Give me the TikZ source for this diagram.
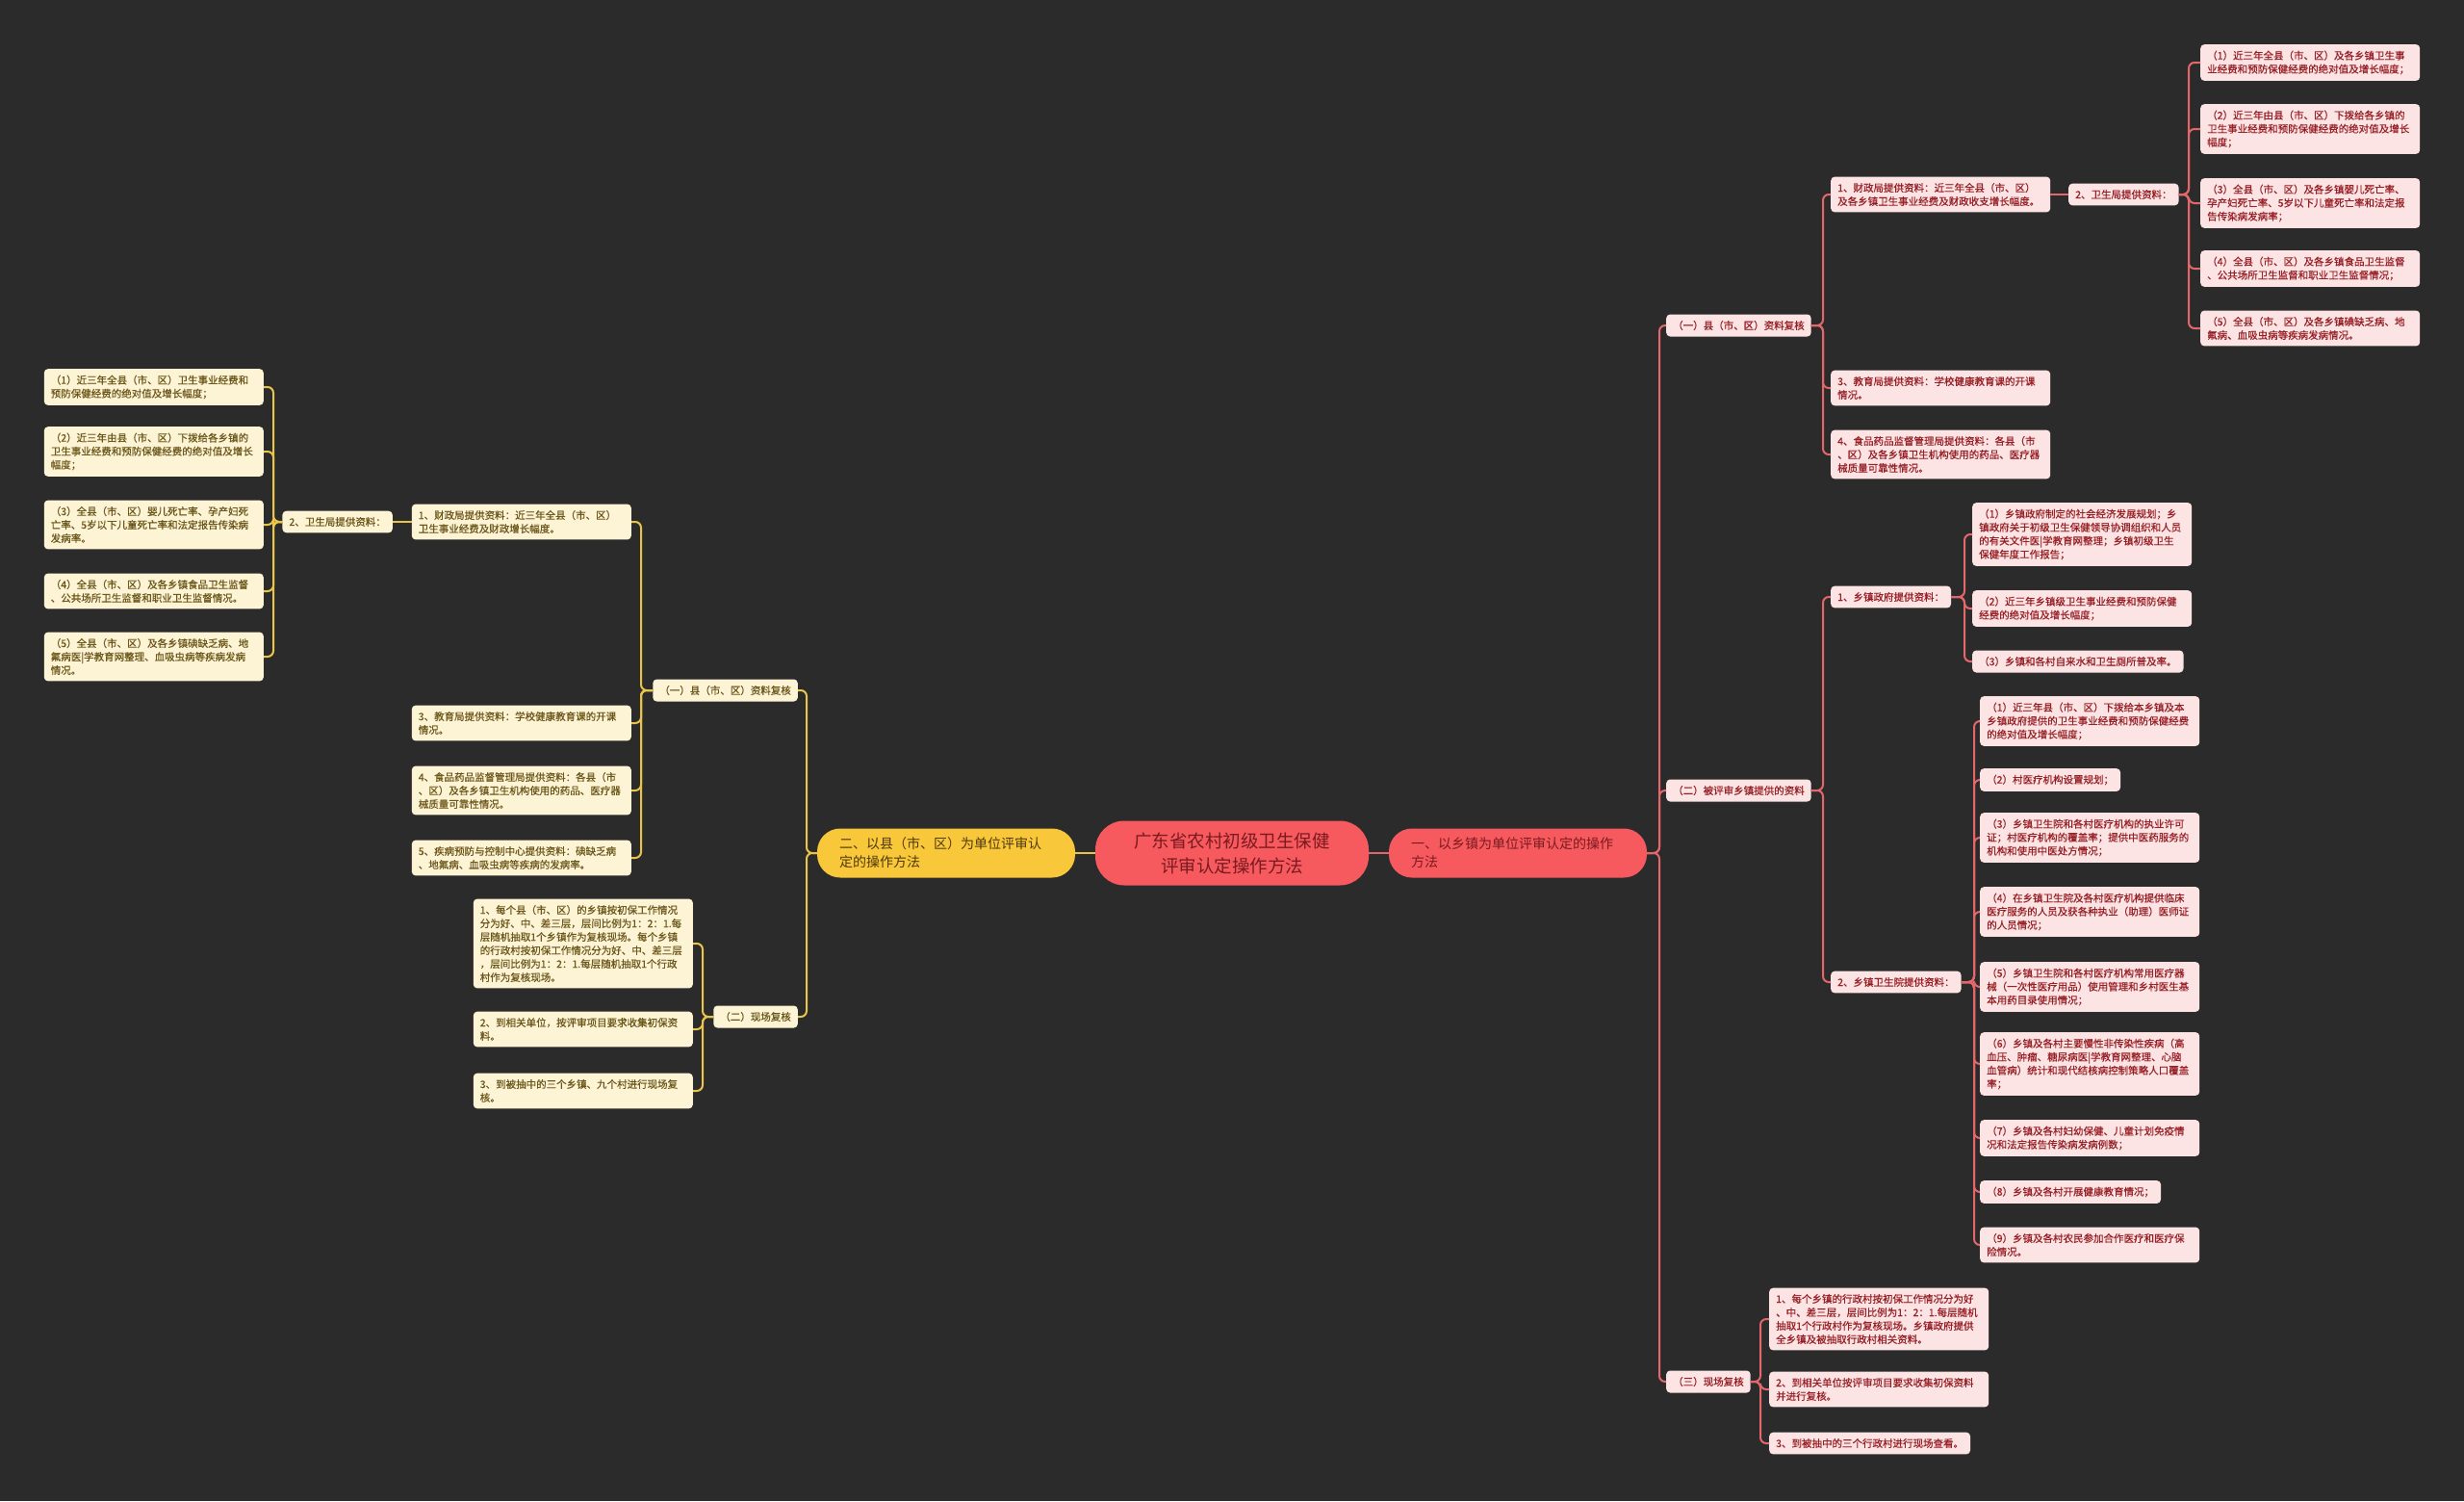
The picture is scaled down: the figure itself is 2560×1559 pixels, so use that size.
\documentclass[tikz,border=0pt]{standalone}
\usepackage{fontspec}
\setmainfont{Noto Sans CJK SC}[BoldFont={Noto Sans CJK SC}, BoldFeatures={FakeBold=0.4}]
\definecolor{bg}{HTML}{2B2B2B}
\definecolor{rootred}{HTML}{F65A5F}
\definecolor{roottext}{HTML}{7A1A1E}
\definecolor{pinkfill}{HTML}{FDE4E4}
\definecolor{pinktext}{HTML}{951C22}
\definecolor{redline}{HTML}{E4676B}
\definecolor{yellowmain}{HTML}{F9C83A}
\definecolor{yellowtext}{HTML}{4E390A}
\definecolor{creamfill}{HTML}{FDF3D5}
\definecolor{creamtext}{HTML}{6A5518}
\definecolor{yellowline}{HTML}{E9C54A}
\newcommand\cnsmall{\fontsize{10.5}{14}\selectfont\bfseries}
\tikzset{
  basebox/.style={rounded corners=4, inner xsep=7, inner ysep=6.5, font=\cnsmall, align=left},
  rbox/.style={basebox, fill=pinkfill, text=pinktext, anchor=west},
  rboxw/.style={rbox, text width=214},
  ybox/.style={basebox, fill=creamfill, text=creamtext, anchor=east},
  yboxw/.style={ybox, text width=214},
  rl/.style={draw=redline, line width=2, rounded corners=6},
  yl/.style={draw=yellowline, line width=2, rounded corners=6},
  rootbox/.style={fill=rootred, text=roottext, rounded corners=30, minimum width=284, minimum height=67, align=center, inner sep=0, font=\fontsize{18.5}{26}\selectfont},
  lonebox/.style={rounded corners=24, minimum width=268, minimum height=51, text width=222, inner xsep=23, inner ysep=0, align=left, font=\fontsize{14}{19}\selectfont}
}
\begin{document}
\begin{tikzpicture}[x=1pt,y=-1pt]
\fill[bg] (0,0) rectangle (2560,1559);
\useasboundingbox (0,0) rectangle (2560,1559);

% root and level 1
\node[rootbox] (root) at (1280,886) {广东省农村初级卫生保健\\评审认定操作方法};
\node[lonebox, fill=rootred, text=roottext] (L1R) at (1577,886) {一、以乡镇为单位评审认定的操作\\方法};
\node[lonebox, fill=yellowmain, text=yellowtext] (L1L) at (983,886) {二、以县（市、区）为单位评审认\\定的操作方法};
\draw[rl] (root.east) -- (L1R.west);
\draw[yl] (root.west) -- (L1L.east);

% trunk coordinates
\coordinate (tA) at (1724,0);
\coordinate (tB) at (1894,0);
\coordinate (tD) at (2274,0);
\coordinate (tE) at (2041,0);
\coordinate (tF) at (2051,0);
\coordinate (tG) at (1829,0);
\coordinate (tH) at (838,0);
\coordinate (tI) at (666,0);
\coordinate (tK) at (284,0);
\coordinate (tM) at (730,0);

% ---------------- right side ----------------
\node[rbox] (A1) at (1731,338) {（一）县（市、区）资料复核};
\node[rbox] (A2) at (1731,821) {（二）被评审乡镇提供的资料};
\node[rbox] (A3) at (1731,1435) {（三）现场复核};
\foreach \c in {A1,A2,A3} \draw[rl] (L1R.east) -- (L1R.east -| tA) |- (\c.west);

\node[rboxw] (B1) at (1902,202) {1、财政局提供资料：近三年全县（市、区）\\及各乡镇卫生事业经费及财政收支增长幅度。};
\node[rboxw] (B2) at (1902,403) {3、教育局提供资料：学校健康教育课的开课\\情况。};
\node[rboxw] (B3) at (1902,472) {4、食品药品监督管理局提供资料：各县（市\\、区）及各乡镇卫生机构使用的药品、医疗器\\械质量可靠性情况。};
\foreach \c in {B1,B2,B3} \draw[rl] (A1.east) -- (A1.east -| tB) |- (\c.west);

\node[rbox] (C1) at (2149,202) {2、卫生局提供资料：};
\draw[rl] (B1.east) -- (C1.west);

\node[rboxw] (D1) at (2286,65) {（1）近三年全县（市、区）及各乡镇卫生事\\业经费和预防保健经费的绝对值及增长幅度；};
\node[rboxw] (D2) at (2286,134) {（2）近三年由县（市、区）下拨给各乡镇的\\卫生事业经费和预防保健经费的绝对值及增长\\幅度；};
\node[rboxw] (D3) at (2286,211) {（3）全县（市、区）及各乡镇婴儿死亡率、\\孕产妇死亡率、5岁以下儿童死亡率和法定报\\告传染病发病率；};
\node[rboxw] (D4) at (2286,279) {（4）全县（市、区）及各乡镇食品卫生监督\\、公共场所卫生监督和职业卫生监督情况；};
\node[rboxw] (D5) at (2286,341) {（5）全县（市、区）及各乡镇碘缺乏病、地\\氟病、血吸虫病等疾病发病情况。};
\foreach \c in {D1,D2,D3,D4,D5} \draw[rl] (C1.east) -- (C1.east -| tD) |- (\c.west);

\node[rbox] (B4) at (1902,620) {1、乡镇政府提供资料：};
\node[rbox] (B5) at (1902,1020) {2、乡镇卫生院提供资料：};
\foreach \c in {B4,B5} \draw[rl] (A2.east) -- (A2.east -| tB) |- (\c.west);

\node[rboxw] (E1) at (2049,555) {（1）乡镇政府制定的社会经济发展规划；乡\\镇政府关于初级卫生保健领导协调组织和人员\\的有关文件医|学教育网整理；乡镇初级卫生\\保健年度工作报告；};
\node[rboxw] (E2) at (2049,632) {（2）近三年乡镇级卫生事业经费和预防保健\\经费的绝对值及增长幅度；};
\node[rbox] (E3) at (2049,687) {（3）乡镇和各村自来水和卫生厕所普及率。};
\foreach \c in {E1,E2,E3} \draw[rl] (B4.east) -- (B4.east -| tE) |- (\c.west);

\node[rboxw] (F1) at (2057,749) {（1）近三年县（市、区）下拨给本乡镇及本\\乡镇政府提供的卫生事业经费和预防保健经费\\的绝对值及增长幅度；};
\node[rbox] (F2) at (2057,810) {（2）村医疗机构设置规划；};
\node[rboxw] (F3) at (2057,870) {（3）乡镇卫生院和各村医疗机构的执业许可\\证；村医疗机构的覆盖率；提供中医药服务的\\机构和使用中医处方情况；};
\node[rboxw] (F4) at (2057,947) {（4）在乡镇卫生院及各村医疗机构提供临床\\医疗服务的人员及获各种执业（助理）医师证\\的人员情况；};
\node[rboxw] (F5) at (2057,1025) {（5）乡镇卫生院和各村医疗机构常用医疗器\\械（一次性医疗用品）使用管理和乡村医生基\\本用药目录使用情况；};
\node[rboxw] (F6) at (2057,1105) {（6）乡镇及各村主要慢性非传染性疾病（高\\血压、肿瘤、糖尿病医|学教育网整理、心脑\\血管病）统计和现代结核病控制策略人口覆盖\\率；};
\node[rboxw] (F7) at (2057,1182) {（7）乡镇及各村妇幼保健、儿童计划免疫情\\况和法定报告传染病发病例数；};
\node[rbox] (F8) at (2057,1238) {（8）乡镇及各村开展健康教育情况；};
\node[rboxw] (F9) at (2057,1293) {（9）乡镇及各村农民参加合作医疗和医疗保\\险情况。};
\foreach \c in {F1,F2,F3,F4,F5,F6,F7,F8,F9} \draw[rl] (B5.east) -- (B5.east -| tF) |- (\c.west);

\node[rboxw] (G1) at (1838,1370) {1、每个乡镇的行政村按初保工作情况分为好\\、中、差三层，层间比例为1：2：1.每层随机\\抽取1个行政村作为复核现场。乡镇政府提供\\全乡镇及被抽取行政村相关资料。};
\node[rboxw] (G2) at (1838,1443) {2、到相关单位按评审项目要求收集初保资料\\并进行复核。};
\node[rbox] (G3) at (1838,1499) {3、到被抽中的三个行政村进行现场查看。};
\foreach \c in {G1,G2,G3} \draw[rl] (A3.east) -- (A3.east -| tG) |- (\c.west);

% ---------------- left side ----------------
\node[ybox] (H1) at (829,717) {（一）县（市、区）资料复核};
\node[ybox] (H2) at (829,1056) {（二）现场复核};
\foreach \c in {H1,H2} \draw[yl] (L1L.west) -- (L1L.west -| tH) |- (\c.east);

\node[yboxw] (I1) at (656,542) {1、财政局提供资料：近三年全县（市、区）\\卫生事业经费及财政增长幅度。};
\node[yboxw] (I2) at (656,751) {3、教育局提供资料：学校健康教育课的开课\\情况。};
\node[yboxw] (I3) at (656,821) {4、食品药品监督管理局提供资料：各县（市\\、区）及各乡镇卫生机构使用的药品、医疗器\\械质量可靠性情况。};
\node[yboxw] (I4) at (656,891) {5、疾病预防与控制中心提供资料：碘缺乏病\\、地氟病、血吸虫病等疾病的发病率。};
\foreach \c in {I1,I2,I3,I4} \draw[yl] (H1.west) -- (H1.west -| tI) |- (\c.east);

\node[ybox] (J) at (408,542) {2、卫生局提供资料：};
\draw[yl] (I1.west) -- (J.east);

\node[yboxw] (K1) at (274,402) {（1）近三年全县（市、区）卫生事业经费和\\预防保健经费的绝对值及增长幅度；};
\node[yboxw] (K2) at (274,469) {（2）近三年由县（市、区）下拨给各乡镇的\\卫生事业经费和预防保健经费的绝对值及增长\\幅度；};
\node[yboxw] (K3) at (274,545) {（3）全县（市、区）婴儿死亡率、孕产妇死\\亡率、5岁以下儿童死亡率和法定报告传染病\\发病率。};
\node[yboxw] (K4) at (274,614) {（4）全县（市、区）及各乡镇食品卫生监督\\、公共场所卫生监督和职业卫生监督情况。};
\node[yboxw] (K5) at (274,682) {（5）全县（市、区）及各乡镇碘缺乏病、地\\氟病医|学教育网整理、血吸虫病等疾病发病\\情况。};
\foreach \c in {K1,K2,K3,K4,K5} \draw[yl] (J.west) -- (J.west -| tK) |- (\c.east);

\node[yboxw] (M1) at (720,980) {1、每个县（市、区）的乡镇按初保工作情况\\分为好、中、差三层，层间比例为1：2：1.每\\层随机抽取1个乡镇作为复核现场。每个乡镇\\的行政村按初保工作情况分为好、中、差三层\\，层间比例为1：2：1.每层随机抽取1个行政\\村作为复核现场。};
\node[yboxw] (M2) at (720,1069) {2、到相关单位，按评审项目要求收集初保资\\料。};
\node[yboxw] (M3) at (720,1133) {3、到被抽中的三个乡镇、九个村进行现场复\\核。};
\foreach \c in {M1,M2,M3} \draw[yl] (H2.west) -- (H2.west -| tM) |- (\c.east);
\end{tikzpicture}
\end{document}
